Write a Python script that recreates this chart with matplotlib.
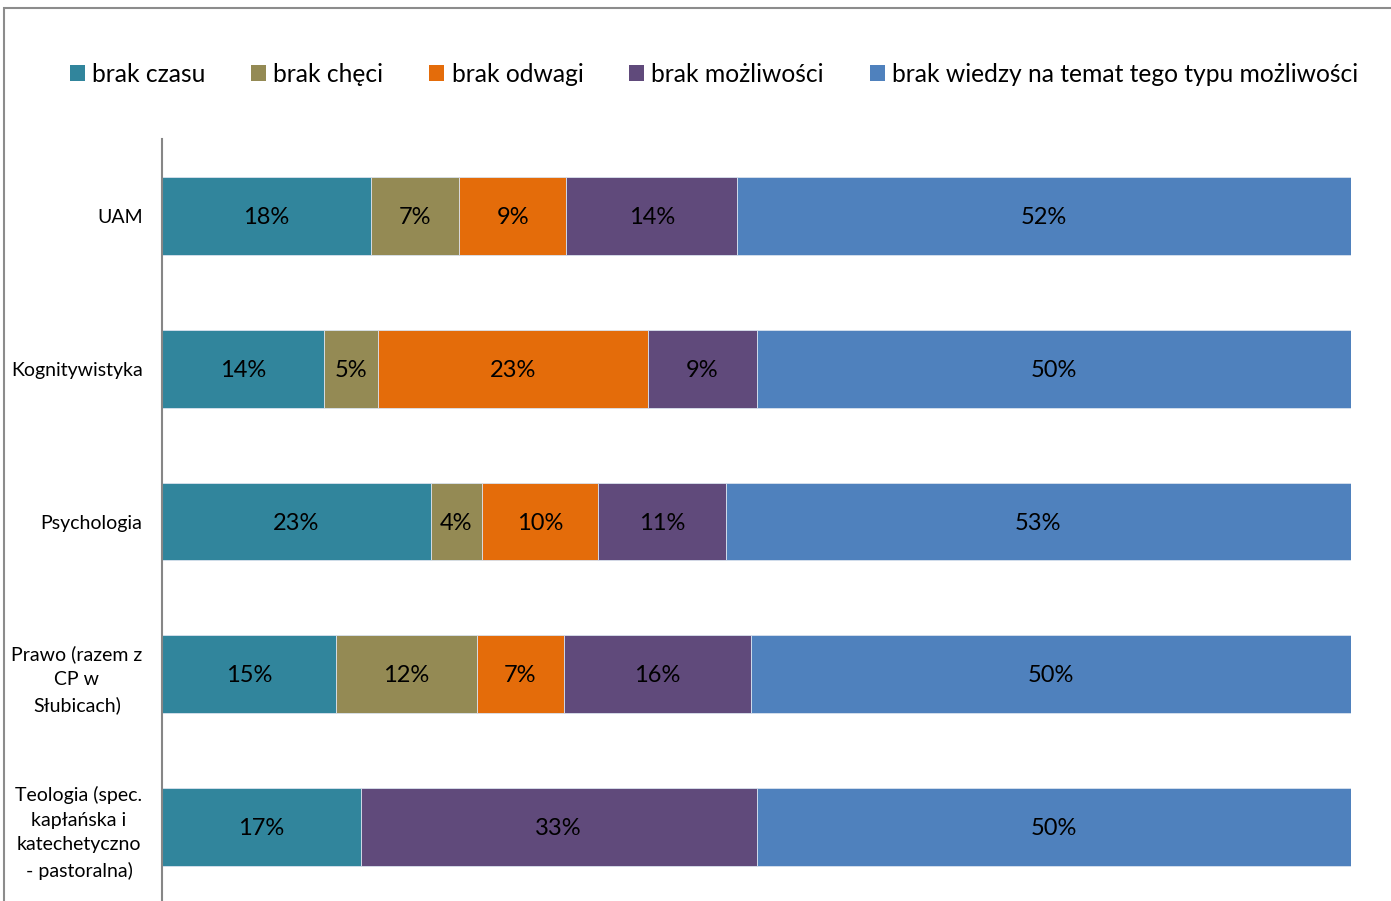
import matplotlib
matplotlib.use("Agg")
import matplotlib.pyplot as plt
from matplotlib.patches import Patch, Rectangle

plt.rcParams['font.family'] = ['Lato', 'DejaVu Sans']

categories = ["UAM", "Kognitywistyka", "Psychologia",
              "Prawo (razem z\nCP w\nSłubicach)",
              "Teologia (spec.\nkapłańska i\nkatechetyczno\n- pastoralna)"]

series_names = ["brak czasu", "brak chęci", "brak odwagi", "brak możliwości",
                "brak wiedzy na temat tego typu możliwości"]

# share of answers in percent, one list per reason
brak_czasu = [17.6, 13.6, 22.6, 14.6, 16.7]
brak_checi = [7.4, 4.6, 4.3, 11.9, 0.0]
brak_odwagi = [9.0, 22.7, 9.8, 7.3, 0.0]
brak_mozliwosci = [14.4, 9.1, 10.7, 15.7, 33.3]
brak_wiedzy = [51.6, 50.0, 52.6, 50.5, 50.0]

colors = ["#31859C", "#948A54", "#E46C0A", "#604A7B", "#4F81BD"]

series = [brak_czasu, brak_checi, brak_odwagi, brak_mozliwosci, brak_wiedzy]

fig = plt.figure(figsize=(13.91, 9.01), dpi=100)
ax = fig.add_axes([162 / 1391, 1 - 903.5 / 901, 1189 / 1391, 764 / 901])

# outer chart border (cropped on the right and bottom)
fig.patches.append(Rectangle((4 / 1391, -0.1), 1.2, 1 - 7.5 / 901 + 0.1,
                             transform=fig.transFigure, fill=False,
                             edgecolor="#8c8c8c", linewidth=1.5))

ypos = list(range(len(categories)))
left = [0.0] * len(categories)
for name, vals, col in zip(series_names, series, colors):
    bars = ax.barh(ypos, vals, left=left, height=0.51, color=col,
                   edgecolor="#d9e2ee", linewidth=0.6, label=name)
    for b, v in zip(bars, vals):
        if v > 0:
            ax.text(b.get_x() + b.get_width() / 2, b.get_y() + b.get_height() / 2 + 0.01,
                    f"{round(v)}%", ha="center", va="center",
                    fontsize=17, color="black")
    left = [l + v for l, v in zip(left, vals)]

ax.set_xlim(0, 100)
ax.set_ylim(4.5, -0.5)
ax.set_yticks(ypos)
ax.set_yticklabels(categories, fontsize=14, multialignment="center",
                   linespacing=1.55)
ax.tick_params(axis="y", length=0, pad=14, labelcolor="black")
ax.set_xticks([])
for s in ["top", "right", "bottom"]:
    ax.spines[s].set_visible(False)
ax.spines["left"].set_color("#868686")
ax.spines["left"].set_linewidth(1.5)

handles = [Patch(facecolor=c, label=n) for n, c in zip(series_names, colors)]
fig.legend(handles=handles, loc="center", bbox_to_anchor=(714 / 1391, 1 - 74 / 901),
           ncol=5, frameon=False, fontsize=17.7, handlelength=0.6,
           handleheight=0.6, handletextpad=0.3, columnspacing=1.87,
           labelcolor="black")

fig.savefig("out.png", dpi=100)
